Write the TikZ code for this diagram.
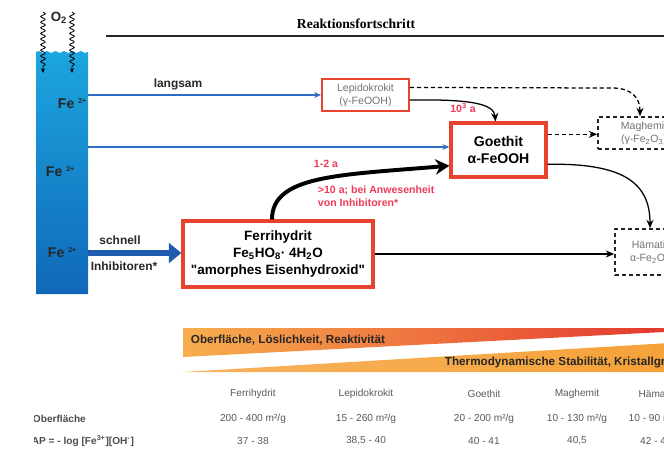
\documentclass[tikz,border=0pt]{standalone}
\usepackage{fontspec}
\setmainfont{Liberation Sans}
\newfontfamily\titleserif{Liberation Serif}
\usepackage{xcolor}
\usetikzlibrary{positioning,arrows.meta,calc,decorations.pathmorphing}
\definecolor{fered}{HTML}{E8432E}
\definecolor{watertop}{HTML}{1CA6DF}
\definecolor{waterbot}{HTML}{1068B8}
\definecolor{flowblue}{HTML}{2F6DC2}
\definecolor{fastblue}{HTML}{1F5CB0}
\definecolor{timered}{HTML}{EE3A58}
\definecolor{bandlight}{HTML}{F8AE4E}
\definecolor{bandmid}{HTML}{F28A32}
\definecolor{bandred}{HTML}{E0262A}
\definecolor{bandlow}{HTML}{F5A035}

\begin{document}
\begin{tikzpicture}[x=0.025cm,y=-0.025cm,
  phase/.style={draw=fered,line width=2.2pt,fill=white,align=center,inner sep=0pt,
    font=\fontsize{9.6}{12}\selectfont\bfseries},
  minor/.style={draw=fered,line width=1.1pt,fill=white,align=center,inner sep=0pt,
    text=black!55,font=\fontsize{7.5}{9.5}\selectfont},
  oxide/.style={draw=black!85,densely dashed,line width=1.1pt,fill=white,align=center,
    inner sep=0pt,text=black!55,font=\fontsize{7.5}{9.5}\selectfont},
  conv/.style={-{Stealth[length=6pt,width=5pt]},line width=0.9pt},
  slowconv/.style={conv,densely dashed},
  feed/.style={-{Stealth[length=5pt,width=4pt]},flowblue,line width=0.9pt},
  rate/.style={text=timered,font=\fontsize{7.5}{9}\selectfont\bfseries,align=left},
  lbl/.style={font=\fontsize{8.5}{10}\selectfont\bfseries,text=black!85},
  ion/.style={font=\fontsize{10}{12}\selectfont\bfseries,text=black!85,anchor=west},
  tab/.style={font=\fontsize{7.2}{8}\selectfont,text=black!65},
  tabhead/.style={font=\fontsize{7.2}{8}\selectfont\bfseries,text=black!70,anchor=west},
]
\useasboundingbox (0,0) rectangle (664,450);
\clip (0,0) rectangle (664,450);

% water column with Fe2+
\shade[top color=watertop,bottom color=waterbot]
  (36,294) -- (36,52)
  decorate[decoration={snake,amplitude=0.7pt,segment length=6pt}]{-- (88,52)}
  -- (88,294) -- cycle;
\node[font=\fontsize{9.5}{11}\selectfont\bfseries,text=black!85] (ox) at (59,18) {O\textsubscript{2}};
\foreach \sx in {43,72}
  \draw[decorate,decoration={snake,amplitude=1.6pt,segment length=4pt,post length=4pt},
    -{Stealth[length=3.5pt,width=3pt]},line width=0.6pt] (\sx,12) -- (\sx,73);
\node[ion] (fe1) at (53,104) {Fe \textsuperscript{\fontsize{5}{5}\selectfont 2+}};
\node[ion] (fe2) at (41,172) {Fe \textsuperscript{\fontsize{5}{5}\selectfont 2+}};
\node[ion] (fe3) at (43,253) {Fe \textsuperscript{\fontsize{5}{5}\selectfont 2+}};
\coordinate (col1) at (88,95);
\coordinate (col2) at (88,147);
\coordinate (col3) at (88,253);

% progress axis
\node[font=\fontsize{9.7}{11}\selectfont\titleserif\bfseries] (prog) at (356,24) {Reaktionsfortschritt};
\draw[line width=1.5pt,black!85] (106,36) -- (664,36);

% phases
\node[minor,minimum width=2.175cm,minimum height=0.8cm] (lepi) at (365.5,95)
  {Lepidokrokit\\(γ-FeOOH)};
\node[phase,minimum width=2.375cm,minimum height=1.35cm,font=\fontsize{10}{12.5}\selectfont\bfseries]
  (goe) at (498.5,150) {Goethit\\α-FeOOH};
\node[phase,minimum width=4.75cm,minimum height=1.65cm] (ferri) at (278,254)
  {Ferrihydrit\\Fe\textsubscript{5}HO\textsubscript{8}· 4H\textsubscript{2}O\\\textquotedbl amorphes Eisenhydroxid\textquotedbl};
\node[oxide,minimum width=2.3cm,minimum height=0.8cm] (magh) at (644,133)
  {Maghemit\\(γ-Fe\textsubscript{2}O\textsubscript{3})};
\node[oxide,minimum width=1.75cm,minimum height=1.15cm] (haem) at (650,252)
  {Hämatit\\α-Fe\textsubscript{2}O\textsubscript{3}};

% Fe2+ feeds
\draw[feed] (col1) -- (lepi.west);
\node[lbl,above=0pt of col1,xshift=2.25cm] (slow) {langsam};
\draw[feed] (col2) -- (col2 -| goe.west);
\draw[-{Triangle[length=9pt,width=14pt]},fastblue,line width=3.6pt] (col3) -- (col3 -| ferri.west);
\node[lbl] (fast) at (120,240) {schnell};
\node[lbl] (inhib) at (124,266) {Inhibitoren*};

% conversions
\draw[conv] ($(lepi.east)!0.3!(lepi.south east)$) .. controls (472,99) and (494,104) .. ($(goe.north)+(-3,0)$);
\node[rate] (t1) at (463,108) {10\textsuperscript{3} a};
\coordinate (lm) at ($(lepi.east)!0.45!(lepi.north east)$);
\draw[slowconv] (lm) -- (612,88) .. controls (632,88) and (640,98) .. ($(magh.north)+(-4,0)$);
\coordinate (gm) at ($(goe.east)!0.55!(goe.north east)$);
\draw[slowconv] (gm) -- (gm -| magh.west);
\draw[conv] ($(goe.east)!0.5!(goe.south east)$) .. controls (622,163) and (650,182) .. (haem.north);
\draw[conv] (ferri.east) -- (ferri.east -| haem.west);
\draw[-{Stealth[length=10pt,width=11pt]},line width=2.8pt]
  ($(ferri.north)+(-6,0)$) .. controls (272,175) and (340,175) .. ($(goe.west)!0.55!(goe.south west)$);
\node[rate] (t2) at (326,164) {1-2 a};
\node[rate,anchor=west] (t3) at (313,196) {>10 a; bei Anwesenheit\\von Inhibitoren*};

% trend bands
\shade[left color=bandlight,middle color=bandmid,right color=bandred]
  (183,328) -- (741,328) -- (183,357) -- cycle;
\shade[left color=bandlow!80!white,right color=bandlow]
  (183,372) -- (720,340) -- (720,372) -- cycle;
\node[font=\fontsize{8.3}{10}\selectfont\bfseries,text=black!85,anchor=west] (band1) at (186,340)
  {Oberfläche, Löslichkeit, Reaktivität};
\node[font=\fontsize{8.3}{10}\selectfont\bfseries,text=black!85,anchor=west] (band2) at (440,362)
  {Thermodynamische Stabilität, Kristallgröße};

% table
\begin{scope}
\clip (34,405) rectangle (200,450);
\node[tabhead] (rowA) at (28,419) {Oberfläche};
\node[tabhead] (rowB) at (24,441) {IAP = - log [Fe\textsuperscript{3+}][OH\textsuperscript{-}]};
\end{scope}
\foreach \nm/\xx/\sa/\pk [count=\ci] in {
  Ferrihydrit/253/{200 - 400 m²/g}/{37 - 38},
  Lepidokrokit/366/{15 - 260 m²/g}/{38,5 - 40},
  Goethit/484/{20 - 200 m²/g}/{40 - 41},
  Maghemit/577/{10 - 130 m²/g}/{40,5},
  Hämatit/656/{10 - 90 m²/g}/{42 - 45}}{
  \node[tab] (hd\ci) at (\xx,394) {\nm};
  \node[tab] (sa\ci) at (\xx,419) {\sa};
  \node[tab] (pk\ci) at (\xx,441) {\pk};
}
\end{tikzpicture}
\end{document}
